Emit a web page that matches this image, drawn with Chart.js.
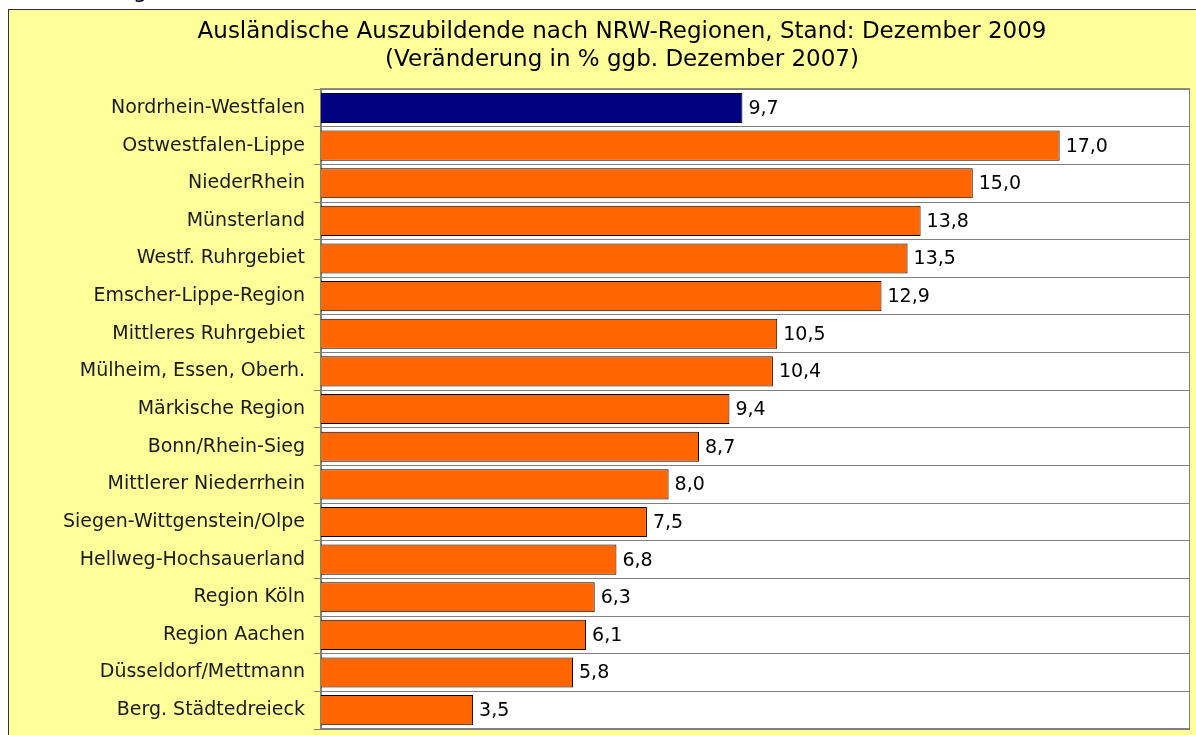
<!DOCTYPE html>
<html lang="de">
<head>
<meta charset="utf-8">
<script src="https://cdn.jsdelivr.net/npm/chart.js@4.4.1/dist/chart.umd.min.js"></script>
<style>
  html, body { margin: 0; padding: 0; background: #fff; overflow: hidden; }
  #cut { position: absolute; left: 36px; top: -22px; font: 22px "DejaVu Sans", sans-serif; color: #000; white-space: nowrap; }
  #box { position: absolute; left: 8px; top: 9px; width: 1200px; height: 740px; background: #ffff99; border: 1px solid #333; }
  #wrap { position: absolute; left: 0; top: 0; width: 1196px; height: 735px; }
</style>
</head>
<body>
<div id="cut">Abbildung</div>
<div id="box"></div>
<div id="wrap"><canvas id="chart"></canvas></div>
<script>
const titleLines = [
  'Ausländische Auszubildende nach NRW-Regionen, Stand: Dezember 2009',
  '(Veränderung in % ggb. Dezember 2007)'
];
const regions = [
  'Nordrhein-Westfalen', 'Ostwestfalen-Lippe', 'NiederRhein', 'Münsterland',
  'Westf. Ruhrgebiet', 'Emscher-Lippe-Region', 'Mittleres Ruhrgebiet',
  'Mülheim, Essen, Oberh.', 'Märkische Region', 'Bonn/Rhein-Sieg',
  'Mittlerer Niederrhein', 'Siegen-Wittgenstein/Olpe', 'Hellweg-Hochsauerland',
  'Region Köln', 'Region Aachen', 'Düsseldorf/Mettmann', 'Berg. Städtedreieck'
];
const changePct = [9.7, 17.0, 15.0, 13.8, 13.5, 12.9, 10.5, 10.4, 9.4, 8.7, 8.0, 7.5, 6.8, 6.3, 6.1, 5.8, 3.5];
const axisMin = 0;
const axisMax = 20;

const barColors = regions.map((r, i) => (i === 0 ? '#000080' : '#ff6600'));

const plotFrame = {
  id: 'plotFrame',
  beforeDraw(chart) {
    const a = chart.chartArea;
    chart.ctx.save();
    chart.ctx.fillStyle = '#ffffff';
    chart.ctx.fillRect(a.left, a.top, a.right - a.left, a.bottom - a.top);
    chart.ctx.restore();
  },
  beforeDatasetsDraw(chart) {
    const a = chart.chartArea;
    const ctx = chart.ctx;
    ctx.save();
    ctx.strokeStyle = '#808080';
    ctx.lineWidth = 1;
    ctx.strokeRect(a.left - 0.5, a.top - 0.5, a.right - a.left, a.bottom - a.top);
    ctx.restore();
  }
};

const valueLabels = {
  id: 'valueLabels',
  afterDatasetsDraw(chart) {
    const ctx = chart.ctx;
    const meta = chart.getDatasetMeta(0);
    ctx.save();
    ctx.fillStyle = '#000';
    ctx.font = '19px "DejaVu Sans", sans-serif';
    ctx.textBaseline = 'middle';
    meta.data.forEach((bar, i) => {
      const txt = changePct[i].toFixed(1).replace('.', ',');
      ctx.fillText(txt, bar.x + 6, bar.y + 1);
    });
    ctx.restore();
  }
};

new Chart(document.getElementById('chart'), {
  type: 'bar',
  data: {
    labels: regions,
    datasets: [{
      data: changePct,
      backgroundColor: barColors,
      borderColor: '#000',
      borderWidth: 1,
      borderSkipped: 'start',
      barPercentage: 0.8,
      categoryPercentage: 1
    }]
  },
  options: {
    indexAxis: 'y',
    responsive: true,
    maintainAspectRatio: false,
    animation: false,
    layout: { padding: { top: 18, right: 6, bottom: 6, left: 54 } },
    plugins: {
      legend: { display: false },
      tooltip: { enabled: false },
      title: {
        display: true,
        text: titleLines,
        color: '#000',
        font: { family: '"DejaVu Sans", sans-serif', size: 23, weight: 'normal', lineHeight: 1.22 },
        padding: { top: 0, bottom: 15 }
      }
    },
    scales: {
      x: {
        display: false,
        min: axisMin,
        max: axisMax
      },
      y: {
        afterFit(scale) {
          scale.width = 321 - 54;
          scale.paddingTop = 0;
          scale.paddingBottom = 0;
        },
        border: { display: true, color: '#808080' },
        grid: { offset: true, color: '#808080', tickLength: 7, drawOnChartArea: true },
        ticks: {
          color: '#1a1a1a',
          padding: 9,
          font: { family: '"DejaVu Sans", sans-serif', size: 19 }
        }
      }
    }
  },
  plugins: [plotFrame, valueLabels]
});
</script>
</body>
</html>
